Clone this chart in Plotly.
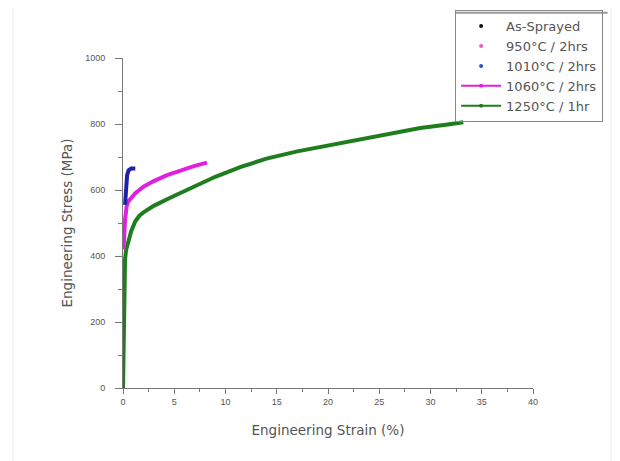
import plotly.graph_objects as go

# Data
green_strain = [0.0, 0.05, 0.1, 0.2, 0.3, 0.5, 0.8, 1.2, 1.6, 2.0, 3.0, 4.5, 6.5, 9.0, 11.5, 14.0, 17.0, 20.0, 23.0, 26.0, 29.0, 31.5, 33.2]
green_stress = [0.0, 150.0, 300.0, 390.0, 418.0, 445.0, 475.0, 505.0, 522.0, 532.0, 552.0, 575.0, 605.0, 640.0, 670.0, 695.0, 717.0, 735.0, 755.0, 772.0, 788.0, 798.0, 805.0]

magenta_strain = [0.05, 0.1, 0.2, 0.35, 0.5, 0.7, 1.2, 2.0, 3.0, 4.3, 5.5, 7.0, 8.2]
magenta_stress = [420.0, 460.0, 510.0, 550.0, 565.0, 572.0, 590.0, 610.0, 627.0, 645.0, 658.0, 673.0, 683.0]

blue_strain = [0.2, 0.25, 0.3, 0.4, 0.55, 0.8, 1.2]
blue_stress = [555.0, 590.0, 620.0, 645.0, 660.0, 665.0, 665.0]

legend_names = ["As-Sprayed", "950°C / 2hrs", "1010°C / 2hrs", "1060°C / 2hrs", "1250°C / 1hr"]
x_ticks = [0, 5, 10, 15, 20, 25, 30, 35, 40]
y_ticks = [0, 200, 400, 600, 800, 1000]

fig = go.Figure()

# legend-only entries (markers)
fig.add_trace(go.Scatter(x=[None], y=[None], mode="markers", name=legend_names[0],
                         marker=dict(color="#111111", size=4)))
fig.add_trace(go.Scatter(x=[None], y=[None], mode="markers", name=legend_names[1],
                         marker=dict(color="#e060c0", size=4)))
fig.add_trace(go.Scatter(x=[None], y=[None], mode="markers", name=legend_names[2],
                         marker=dict(color="#3050c0", size=4)))

fig.add_trace(go.Scatter(x=green_strain, y=green_stress, mode="lines", name=legend_names[4],
                         line=dict(color="#1e7d1e", width=4), showlegend=False))
fig.add_trace(go.Scatter(x=magenta_strain, y=magenta_stress, mode="lines", name=legend_names[3],
                         line=dict(color="#e020e0", width=4), showlegend=False))
fig.add_trace(go.Scatter(x=blue_strain, y=blue_stress, mode="lines", name=legend_names[2],
                         line=dict(color="#2020a8", width=4), showlegend=False))

# legend entries with line
fig.add_trace(go.Scatter(x=[None], y=[None], mode="lines+markers", name=legend_names[3],
                         line=dict(color="#e020e0", width=2), marker=dict(color="#e020e0", size=4)))
fig.add_trace(go.Scatter(x=[None], y=[None], mode="lines+markers", name=legend_names[4],
                         line=dict(color="#1e7d1e", width=2), marker=dict(color="#1e7d1e", size=4)))

axis_font = dict(family="Liberation Sans, Arial, sans-serif", size=9, color="#555555")
title_font = dict(family="DejaVu Sans, sans-serif", size=13.5, color="#555555")

fig.update_layout(
    width=612, height=453,
    margin=dict(l=115, r=87, t=50, b=73, autoexpand=False),
    paper_bgcolor="white", plot_bgcolor="white",
    font=dict(family="Liberation Sans, Arial, sans-serif", color="#555555"),
    legend=dict(x=0.81, y=1.145, xanchor="left", yanchor="top",
                bordercolor="#888888", borderwidth=1, bgcolor="rgba(255,255,255,0)",
                font=dict(family="DejaVu Sans, sans-serif", size=13, color="#555555"),
                tracegroupgap=0, itemwidth=40),
    xaxis=dict(range=[0, 40], tickvals=x_ticks, ticks="outside", ticklen=5,
               tickcolor="#777777", showline=True, linecolor="#777777", linewidth=1,
               showgrid=False, zeroline=False, tickfont=axis_font,
               minor=dict(dtick=2.5, ticks="outside", ticklen=3, tickcolor="#777777"),
               title=dict(text="Engineering Strain (%)", font=title_font, standoff=19)),
    yaxis=dict(range=[0, 1000], tickvals=y_ticks, ticks="outside", ticklen=7,
               tickcolor="#777777", showline=True, linecolor="#777777", linewidth=1,
               showgrid=False, zeroline=False, tickfont=axis_font, ticklabelstandoff=8,
               minor=dict(dtick=100, ticks="outside", ticklen=4, tickcolor="#777777"),
               title=dict(text="Engineering Stress (MPa)", font=title_font, standoff=9)),
    shapes=[
        dict(type="rect", xref="paper", yref="paper", x0=-0.268, x1=1.19, y0=-0.4, y1=1.16,
             line=dict(color="#eeeeee", width=1), layer="below"),
        dict(type="line", xref="paper", yref="paper", x0=0.812, x1=1.182, y0=1.137, y1=1.137,
             line=dict(color="#999999", width=2), layer="above"),
    ],
)

fig.write_html("out.html")
